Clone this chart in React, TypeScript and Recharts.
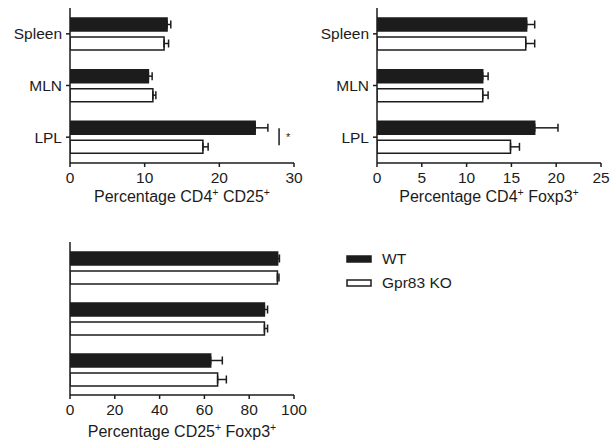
import { BarChart, Bar, XAxis, YAxis, ErrorBar, ReferenceLine, Legend } from 'recharts'

const tissues = ['Spleen', 'MLN', 'LPL']

// % CD4+ CD25+
const cd25Wt = [13.0, 10.5, 24.8]
const cd25WtErr = [0.5, 0.5, 1.7]
const cd25Ko = [12.6, 11.1, 17.8]
const cd25KoErr = [0.6, 0.4, 0.7]

// % CD4+ Foxp3+
const foxp3Wt = [16.7, 11.8, 17.6]
const foxp3WtErr = [0.9, 0.6, 2.6]
const foxp3Ko = [16.6, 11.8, 14.9]
const foxp3KoErr = [1.0, 0.6, 1.0]

// % CD25+ Foxp3+
const dpWt = [92.7, 86.8, 62.8]
const dpWtErr = [0.8, 1.4, 5.2]
const dpKo = [92.6, 86.8, 65.9]
const dpKoErr = [0.7, 1.4, 3.9]

const cd25Ticks = [0, 10, 20, 30]
const foxp3Ticks = [0, 5, 10, 15, 20, 25]
const dpTicks = [0, 20, 40, 60, 80, 100]

const seriesOrder = ['wt', 'ko']

const FONT = '"Liberation Sans", Arial, sans-serif'
const INK = '#1c1c1c'

function buildRows(wt: number[], wtErr: number[], ko: number[], koErr: number[]) {
  return tissues.map((t, i) => ({
    tissue: t,
    wt: wt[i],
    wtErr: [0, wtErr[i]],
    ko: ko[i],
    koErr: [0, koErr[i]],
  }))
}

const cd25Rows = buildRows(cd25Wt, cd25WtErr, cd25Ko, cd25KoErr)
const foxp3Rows = buildRows(foxp3Wt, foxp3WtErr, foxp3Ko, foxp3KoErr)
const dpRows = buildRows(dpWt, dpWtErr, dpKo, dpKoErr)

const tickStyle = { fill: INK, fontSize: 15.5, fontFamily: FONT }

// axis title with two superscript plus signs
function titleLabel(a: string, b: string, gap: number) {
  return (props: any) => {
    const vb = props.viewBox || {}
    const cx = vb.x + vb.width / 2
    const y = vb.y + gap
    return (
      <text x={cx} y={y} textAnchor="middle" fill={INK} fontSize={16} fontFamily={FONT}>
        <tspan>{`Percentage ${a}`}</tspan>
        <tspan dy={-6} fontSize={10.5}>+</tspan>
        <tspan dy={6}>{` ${b}`}</tspan>
        <tspan dy={-6} fontSize={10.5}>+</tspan>
      </text>
    )
  }
}

// significance bracket next to the LPL pair
function SigMark(props: any) {
  const { x1 } = props
  const top = Math.min(props.y1, props.y2)
  const h = Math.abs(props.y2 - props.y1)
  return (
    <g>
      <line x1={x1} x2={x1} y1={top + h * 0.775} y2={top + h * 0.885} stroke={INK} strokeWidth={1.5} />
      <text x={x1 + 9} y={top + h * 0.86} textAnchor="middle" fontSize={11} fill={INK} fontFamily={FONT}>*</text>
    </g>
  )
}

function LegendBox(props: any) {
  const items = [...(props.payload || [])].sort(
    (a: any, b: any) => seriesOrder.indexOf(a.dataKey) - seriesOrder.indexOf(b.dataKey)
  )
  return (
    <div style={{ fontFamily: FONT, fontSize: 15.5, color: INK }}>
      {items.map((it: any, i: number) => (
        <div key={i} style={{ display: 'flex', alignItems: 'center', height: 24 }}>
          <svg width={26} height={8} style={{ marginRight: 10 }}>
            <rect x={1} y={1} width={24} height={6} fill={it.payload?.fill ?? it.color} stroke={INK} strokeWidth={1.5} />
          </svg>
          <span>{it.value}</span>
        </div>
      ))}
    </div>
  )
}

function Panel(props: any) {
  const { rows, domain, ticks, width, height, margin, yWidth, showNames, xHeight, title, children } = props
  return (
    <BarChart
      layout="vertical"
      width={width}
      height={height}
      data={rows}
      margin={margin}
      barSize={13}
      barGap={6}
    >
      <XAxis
        type="number"
        domain={domain}
        ticks={ticks}
        tickSize={4}
        tickMargin={5}
        height={xHeight}
        stroke={INK}
        strokeWidth={1.5}
        tick={tickStyle}
        interval={0}
        allowDataOverflow
        label={{ content: title }}
      />
      <YAxis
        type="category"
        dataKey="tissue"
        width={yWidth}
        tickSize={4}
        tickMargin={4}
        stroke={INK}
        strokeWidth={1.5}
        tick={showNames ? tickStyle : false}
      />
      <Bar dataKey="wt" name="WT" fill={INK} stroke={INK} strokeWidth={1.5} isAnimationActive={false}>
        <ErrorBar dataKey="wtErr" direction="x" width={4} stroke={INK} strokeWidth={1.5} />
      </Bar>
      <Bar dataKey="ko" name="Gpr83 KO" fill="#ffffff" stroke={INK} strokeWidth={1.5} isAnimationActive={false}>
        <ErrorBar dataKey="koErr" direction="x" width={4} stroke={INK} strokeWidth={1.5} />
      </Bar>
      {children}
    </BarChart>
  )
}

export default function App() {
  return (
    <div style={{ position: 'absolute', left: 0, top: 0, width: 610, height: 443, background: '#fff' }}>
      <div style={{ position: 'absolute', left: 0, top: 0 }}>
        <Panel
          rows={cd25Rows}
          domain={[0, 30]}
          ticks={cd25Ticks}
          width={310}
          height={215}
          margin={{ top: 8, right: 16, bottom: 0, left: 0 }}
          yWidth={70}
          xHeight={52}
          showNames
          title={titleLabel('CD4', 'CD25', 39)}
        >
          <ReferenceLine x={28} ifOverflow="visible" shape={<SigMark />} />
        </Panel>
      </div>
      <div style={{ position: 'absolute', left: 310, top: 0 }}>
        <Panel
          rows={foxp3Rows}
          domain={[0, 25]}
          ticks={foxp3Ticks}
          width={300}
          height={215}
          margin={{ top: 8, right: 9, bottom: 0, left: 0 }}
          yWidth={67}
          xHeight={52}
          showNames
          title={titleLabel('CD4', 'Foxp3', 39)}
        />
      </div>
      <div style={{ position: 'absolute', left: 0, top: 222 }}>
        <Panel
          rows={dpRows}
          domain={[0, 100]}
          ticks={dpTicks}
          width={610}
          height={221}
          margin={{ top: 20, right: 316, bottom: 0, left: 0 }}
          yWidth={70}
          xHeight={48}
          showNames={false}
          title={titleLabel('CD25', 'Foxp3', 42)}
        >
          <Legend
            layout="vertical"
            align="center"
            verticalAlign="middle"
            content={<LegendBox />}
            wrapperStyle={{ position: 'absolute', left: 346, top: 25, width: 160, height: 50 }}
          />
        </Panel>
      </div>
    </div>
  )
}
